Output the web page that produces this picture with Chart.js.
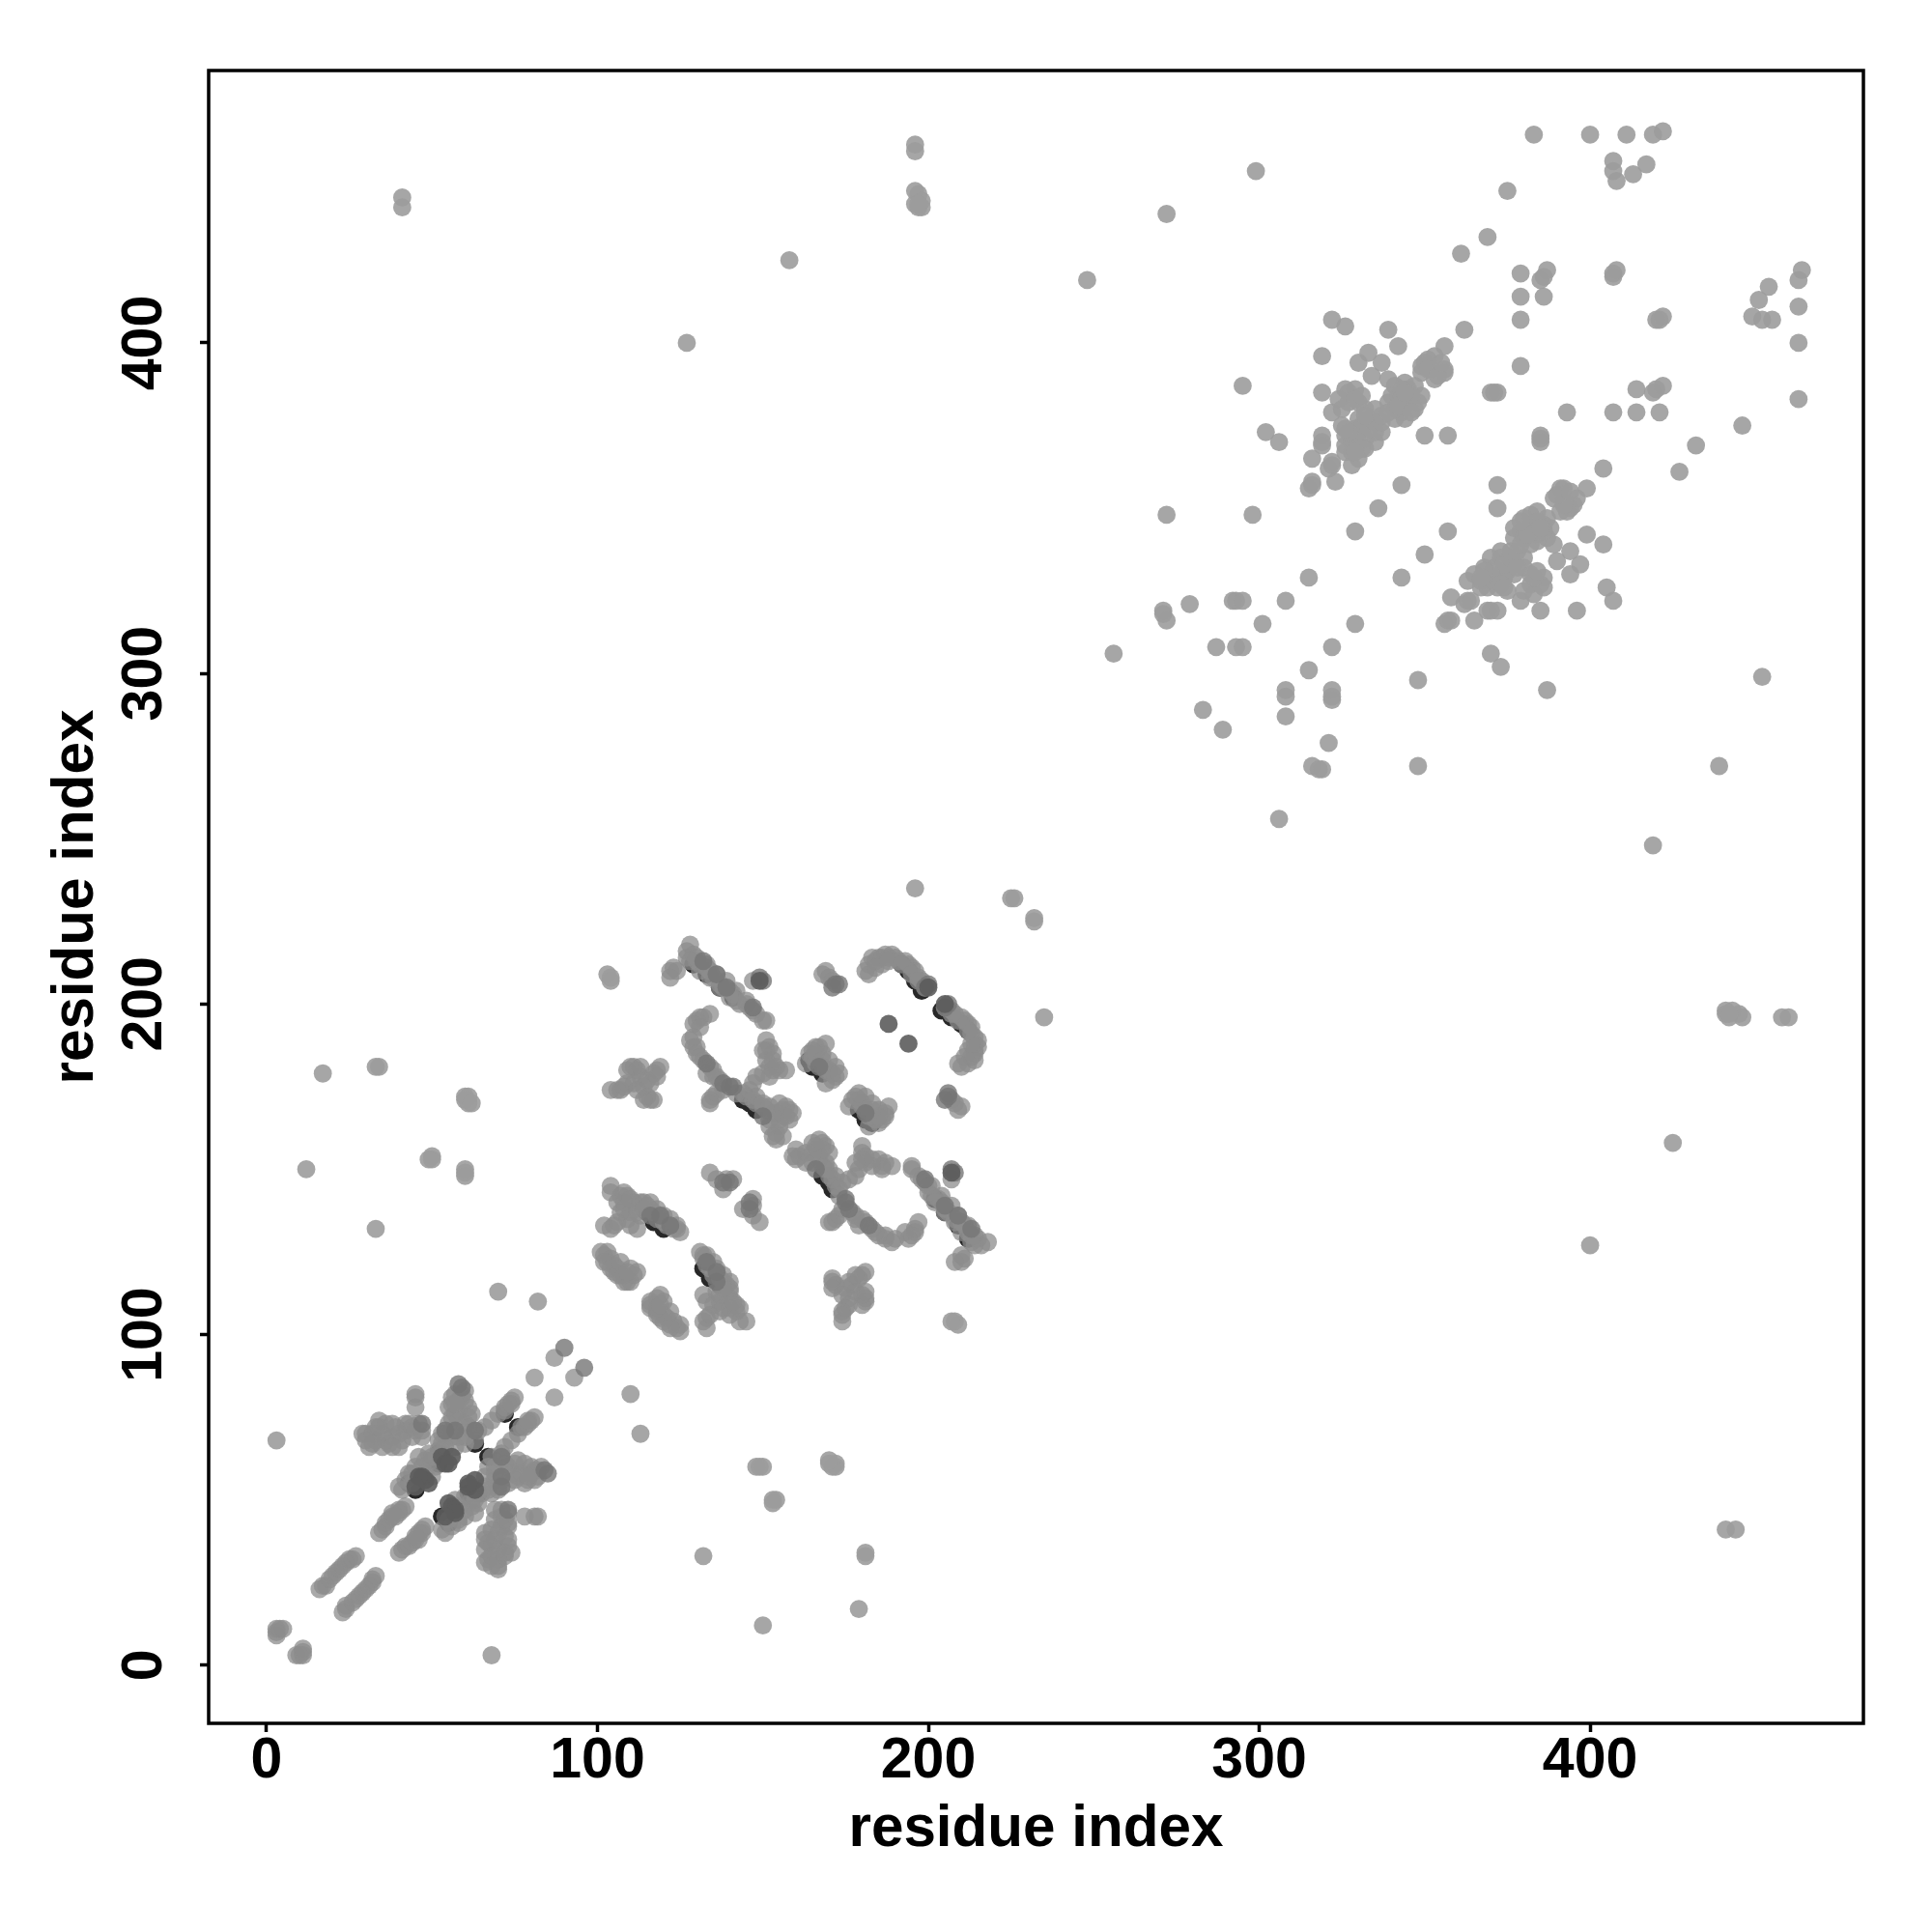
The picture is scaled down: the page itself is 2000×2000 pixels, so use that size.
<!DOCTYPE html>
<html>
<head>
<meta charset="utf-8">
<title>residue contact map</title>
<script src="https://cdn.jsdelivr.net/npm/chart.js@4"></script>
<style>
html, body { margin: 0; padding: 0; background: #fff; }
canvas { display: block; }
</style>
</head>
<body>
<canvas id="map" width="2000" height="2000" style="width:2000px;height:2000px"></canvas>
<script>
'use strict';

var tickValues = [0, 100, 200, 300, 400];
var xTitle = 'residue index';
var yTitle = 'residue index';

// contacts are listed for both sides of the diagonal
var domainOneX = [
  3,3,3,4,5,16,17,18,19,20,21,22,23,24,25,26,27,34,35,36,37,38,40,41,40,30,29,31,32,34,35,35,36,38,38,40,40,42,43,44,46,47,33,37,45,45,45,59,59,56,61,58,56,61,60,55,58,56,54,55,56,52,52,62,64,63,61,53,46,48,44,44,45,50,68,72,73,75,81,87,70,74,72,74,
  9,10,11,11,11,23,24,24,26,27,28,29,30,31,32,32,33,40,41,42,44,46,46,47,54,70,70,66,70,74,66,70,73,69,73,66,70,73,73,69,73,69,72,67,78,81,82,82,81,81,78,77,79,75,83,78,80,71,70,73,69,68,65,71,71,68,72,70,63,62,58,55,60,62,74,78,79,81,87,93,76,80,77,79
];
var domainOneY = [
  9,10,11,11,11,23,24,24,26,27,28,29,30,31,32,32,33,40,41,42,44,46,46,47,54,70,70,66,70,74,66,70,73,69,73,66,70,73,73,69,73,69,72,67,78,81,82,82,81,81,78,77,79,75,83,78,80,71,70,73,69,68,65,71,71,68,72,70,63,62,58,55,60,62,74,78,79,81,87,93,76,80,77,79,
  3,3,3,4,5,16,17,18,19,20,21,22,23,24,25,26,27,34,35,36,37,38,40,41,40,30,29,31,32,34,35,35,36,38,38,40,40,42,43,44,46,47,33,37,45,45,45,59,59,56,61,58,56,61,60,55,58,56,54,55,56,52,52,62,64,63,61,53,46,48,44,44,45,50,68,72,73,75,81,87,70,74,72,74
];
var denseOneX = [
  57,50,51,47,49,60,60,66,58,60,57,56,58,53,54,48,50,42,43,42,39,36,33,32,44,45,41,30,47,38,34,60,57,57,62,38,36,40,42,41,39,
  66,63,60,60,64,67,69,72,69,73,76,75,74,67,66,58,57,56,58,71,72,68,68,67,72,71,68,68,71,66,72,80,82,79,76,45,43,47,48,53,45
];
var denseOneY = [
  66,63,60,60,64,67,69,72,69,73,76,75,74,67,66,58,57,56,58,71,72,68,68,67,72,71,68,68,71,66,72,80,82,79,76,45,43,47,48,53,45,
  57,50,51,47,49,60,60,66,58,60,57,56,58,53,54,48,50,42,43,42,39,36,33,32,44,45,41,30,47,38,34,60,57,57,62,38,36,40,42,41,39
];

var domainTwoX = [
  128,127,129,127,130,131,133,134,135,137,138,140,141,142,143,145,146,147,148,150,151,147,122,123,122,124,
  134,132,131,130,129,128,129,130,130,132,134,135,136,137,
  151,152,153,151,152,153,155,157,150,148,147,151,
  119,118,117,115,113,110,111,109,112,109,104,107,106,116,115,117,111,114,
  134,135,136,134,138,142,145,147,148,150,151,153,158,157,156,155,153,154,157,155,
  169,167,165,164,163,165,166,168,169,171,171,169,
  181,182,183,185,187,189,186,190,193,194,195,196,197,198,169,168,170,171,
  104,104,107,109,108,111,113,115,116,117,118,120,121,123,125,124,102,105,106,104,112,110,109,107,110,
  101,102,103,104,105,106,107,108,109,111,112,103,105,
  134,136,138,139,141,
  218,216,215,214,213,212,211,210,208,206,205,204,203,201,200,200,199,198,197,195,195,207,210,211,208,210,
  197,196,196,195,194,189,190,187,185,183,181,180,178,177,
  189,187,185,183,181,180,180,180,179,178,176,186,
  181,180,179,177,178,181,181,180,180,176,174,174,174,171,172,171,176,175,
  170,172,173,171,174,173,172,171,170,169,168,167,168,169,166,163,160,161,166,170,
  188,187,186,185,182,184,182,181,180,179,177,176,
  210,212,214,214,215,215,212,214,213,212,211,210,208,207,210,209,208,207,
  145,143,142,142,140,140,140,139,138,137,135,134,133,132,131,132,133,133,134,132,132,133,135,137,137,
  125,124,122,123,121,120,118,116,116,118,119,125,119,
  149,147,144,147,147
];
var domainTwoY = [
  218,216,215,214,213,212,211,210,208,206,205,204,203,201,200,200,199,198,197,195,195,207,210,211,208,210,
  197,196,196,195,194,189,190,187,185,183,181,180,178,177,
  189,187,185,183,181,180,180,180,179,178,176,186,
  181,180,179,177,178,181,181,180,180,176,174,174,174,171,172,171,176,175,
  170,172,173,171,174,173,172,171,170,169,168,167,168,169,166,163,160,161,166,170,
  188,187,186,185,182,184,182,181,180,179,177,176,
  210,212,214,214,215,215,212,214,213,212,211,210,208,207,210,209,208,207,
  145,143,142,142,140,140,140,139,138,137,135,134,133,132,131,132,133,133,134,132,132,133,135,137,137,
  125,124,122,123,121,120,118,116,116,118,119,125,119,
  149,147,144,147,147,
  128,127,129,127,130,131,133,134,135,137,138,140,141,142,143,145,146,147,148,150,151,147,122,123,122,124,
  134,132,131,130,129,128,129,130,130,132,134,135,136,137,
  151,152,153,151,152,153,155,157,150,148,147,151,
  119,118,117,115,113,110,111,109,112,109,104,107,106,116,115,117,111,114,
  134,135,136,134,138,142,145,147,148,150,151,153,158,157,156,155,153,154,157,155,
  169,167,165,164,163,165,166,168,169,171,171,169,
  181,182,183,185,187,189,186,190,193,194,195,196,197,198,169,168,170,171,
  104,104,107,109,108,111,113,115,116,117,118,120,121,123,125,124,102,105,106,104,112,110,109,107,110,
  101,102,103,104,105,106,107,108,109,111,112,103,105,
  134,136,138,139,141
];
var denseTwoX = [
  130,133,136,139,142,145,128,131,134,137,140,
  146,148,150,152,154,144,156,152,155,152,154,158,156,159,
  166,168,170,172,166,168,170,172,173,
  184,186,188,191,184,182,188,192,195,197,199,
  114,116,118,120,122,124,108,112,113,106,108,110,114,
  102,104,106,108,110,110,107,109,
  131,129,131,133,135,150,153,154,152,
  113,116,118,108,112,114,
  214,212,209,207,204,201,213,210,208,205,202,
  174,172,170,169,167,173,168,165,165,163,159,165,160,167,
  187,185,183,181,185,183,180,178,179,
  213,214,214,213,211,209,213,212,209,207,205,
  140,140,138,136,135,133,138,137,136,140,143,141,138,
  122,120,118,118,116,120,122,119,
  193,187,184,179,178,186,183,181,178,
  181,176,178,175,174,171
];
var denseTwoY = [
  214,212,209,207,204,201,213,210,208,205,202,
  174,172,170,169,167,173,168,165,165,163,159,165,160,167,
  187,185,183,181,185,183,180,178,179,
  213,214,214,213,211,209,213,212,209,207,205,
  140,140,138,136,135,133,138,137,136,140,143,141,138,
  122,120,118,118,116,120,122,119,
  193,187,184,179,178,186,183,181,178,
  181,176,178,175,174,171,
  130,133,136,139,142,145,128,131,134,137,140,
  146,148,150,152,154,144,156,152,155,152,154,158,156,159,
  166,168,170,172,166,168,170,172,173,
  184,186,188,191,184,182,188,192,195,197,199,
  114,116,118,120,122,124,108,112,113,106,108,110,114,
  102,104,106,108,110,110,107,109,
  131,129,131,133,135,150,153,154,152,
  113,116,118,108,112,114
];

var domainThreeX = [
  322,326,339,342,362,356,379,386,379,379,319,295,319,370,372,371,419,420,422,420,421,422,302,306,319,319,319,316,321,322,322,315,316,316,323,343,357,350,336,329,298,272,315,292,293,295,308,279,301,287,293,295,283,272,271,271,
  333,330,337,334,339,353,350,349,356,356,353,351,352,344,347,349,345,341,342,339,345,343,341,344,341,348,329,326,324,322,327,330,332,335,325,330,333,337,335,330,326,326,335,328,332,330,328,328,326,
  383,400,411,419,422,407,407,408,413,417,375,369,361,299,272,248,256,379,
  407,405,404,399,404,399,414,414,407,393,396,387,385,385,385,385,385,386,387,407,407,408,373,370,372,369,370,365,362,363,364,356,358,357,358,357,372,372,350,343,348,348,329,322,322,322,322,321,315,308,308,308,289,316,319,318,
  397,394,394,390,389,396,394,391,391,392,389,395,392,388,387,384,386,387,384,382,382,379,377,377,380,382,386,386,383,379,382,382,380,380,375,377,377,373,373,373,372,369,370,370,371,365,363,367,367,
  463,463,463,463,464,455,452,449,451,454,446,432,427,452,439,419,306,421
];
var domainThreeY = [
  407,405,404,399,404,399,414,414,407,393,396,387,385,385,385,385,385,386,387,407,407,408,373,370,372,369,370,365,362,363,364,356,358,357,358,357,372,372,350,343,348,348,329,322,322,322,322,321,315,308,308,308,289,316,319,318,
  397,394,394,390,389,396,394,391,391,392,389,395,392,388,387,384,386,387,384,382,382,379,377,377,380,382,386,386,383,379,382,382,380,380,375,377,377,373,373,373,372,369,370,370,371,365,363,367,367,
  463,463,463,463,464,455,452,449,451,454,446,432,427,452,439,419,306,421,
  322,326,339,342,362,356,379,386,379,379,319,295,319,370,372,371,419,420,422,420,421,422,302,306,319,319,319,316,321,322,322,315,316,316,323,343,357,350,336,329,298,272,315,292,293,295,308,279,301,287,293,295,283,272,271,271,
  333,330,337,334,339,353,350,349,356,356,353,351,352,344,347,349,345,341,342,339,345,343,341,344,341,348,329,326,324,322,327,330,332,335,325,330,333,337,335,330,326,326,335,328,332,330,328,328,326,
  383,400,411,419,422,407,407,408,413,417,375,369,361,299,272,248,256,379
];
var denseThreeX = [
  327,329,331,325,329,331,333,335,337,328,330,332,331,329,327,326,332,337,339,340,343,343,346,347,342,344,346,349,351,354,355,
  385,383,384,380,374,375,374,376,376,371,370,368,368,367,373,374,378,378,379,384,386,383,384,380,381,385,379,393,392,390,394
];
var denseThreeY = [
  385,383,384,380,374,375,374,376,376,371,370,368,368,367,373,374,378,378,379,384,386,383,384,380,381,385,379,393,392,390,394,
  327,329,331,325,329,331,333,335,337,328,330,332,331,329,327,326,332,337,339,340,343,343,346,347,342,344,346,349,351,354,355
];

var longRangeX = [
  3,12,17,33,34,33,50,50,49,60,61,61,60,62,60,60,60,70,82,103,104,104,196,225,226,41,41,127,158,196,197,197,196,196,196,198,198,197,
  68,150,179,181,181,132,154,153,153,172,172,170,171,170,150,149,148,113,110,209,208,207,235,232,232,441,444,400,425,442,441,445,446,458,460,443,441,442
];
var longRangeY = [
  68,150,179,181,181,132,154,153,153,172,172,170,171,170,150,149,148,113,110,209,208,207,235,232,232,441,444,400,425,442,441,445,446,458,460,443,441,442,
  3,12,17,33,34,33,50,50,49,60,61,61,60,62,60,60,60,70,82,103,104,104,196,225,226,41,41,127,158,196,197,197,196,196,196,198,198,197
];

// darker contacts, shade goes with how dark the disc is in the picture
var midX = [
  132,136,139,147,149,133,138,140,141,58,59,90,57,47,54,63,116,119,122,138,140,167,150,200,172,173,171,150,199,
  213,209,205,199,208,182,176,175,175,85,84,96,71,73,71,71,136,136,133,146,146,181,166,206,206,206,205,207,205
];
var midY = [
  213,209,205,199,208,182,176,175,175,85,84,96,71,73,71,71,136,136,133,146,146,181,166,206,206,206,205,207,205,
  132,136,139,147,149,133,138,140,141,58,59,90,57,47,54,63,116,119,122,138,140,167,150,200,172,173,171,150,199
];
var darkX = [
  49,48,47,46,45,56,54,53,55,188,200,149,
  55,56,57,57,54,63,61,63,61,194,205,207
];
var darkY = [
  55,56,57,57,54,63,61,63,61,194,205,207,
  49,48,47,46,45,56,54,53,55,188,200,149
];
var blackX = [
  129,133,137,141,144,146,148,164,165,168,115,117,120,192,194,196,52,63,72,43,45,52,198,
  212,209,205,202,171,170,168,183,181,179,137,134,132,212,210,207,61,67,76,55,53,64,204
];
var blackY = [
  212,209,205,202,171,170,168,183,181,179,137,134,132,212,210,207,61,67,76,55,53,64,204,
  129,133,137,141,144,146,148,164,165,168,115,117,120,192,194,196,52,63,72,43,45,52,198
];

var nearX = domainOneX.concat(denseOneX, domainTwoX, denseTwoX);
var nearY = domainOneY.concat(denseOneY, domainTwoY, denseTwoY);
var farX = domainThreeX.concat(denseThreeX, longRangeX);
var farY = domainThreeY.concat(denseThreeY, longRangeY);

function makePoints(xs, ys) {
  var points = [];
  for (var i = 0; i < xs.length; i++) {
    points.push({ x: xs[i], y: ys[i] });
  }
  return points;
}

function makeSet(name, xs, ys, color) {
  return {
    label: name,
    data: makePoints(xs, ys),
    backgroundColor: color,
    borderWidth: 0,
    pointRadius: 9.4,
    pointHoverRadius: 9.4
  };
}

var frame = {
  id: 'frame',
  afterDraw: function(chart) {
    var area = chart.chartArea;
    var ctx = chart.ctx;
    ctx.save();
    ctx.lineWidth = 3.5;
    ctx.strokeStyle = '#000';
    ctx.strokeRect(area.left, area.top, area.right - area.left, area.bottom - area.top);
    ctx.restore();
  }
};

function useTickValues(scale) {
  scale.ticks = tickValues.map(function(v) { return { value: v }; });
}

var fontFamily = '"Liberation Sans", Arial, sans-serif';
var tickFont = { family: fontFamily, size: 59, weight: 'bold' };
var titleFont = { family: fontFamily, size: 60.2, weight: 'bold' };

var ctx = document.getElementById('map').getContext('2d');
var chart = new Chart(ctx, {
  type: 'scatter',
  data: {
    // first dataset ends up on top
    datasets: [
      makeSet('dark', darkX, darkY, 'rgba(92,92,92,0.9)'),
      makeSet('mid', midX, midY, 'rgba(118,118,118,0.8)'),
      makeSet('near', nearX, nearY, 'rgba(140,140,140,0.75)'),
      makeSet('far', farX, farY, 'rgba(156,156,156,0.9)'),
      makeSet('black', blackX, blackY, 'rgb(40,40,40)')
    ]
  },
  plugins: [frame],
  options: {
    responsive: false,
    animation: false,
    devicePixelRatio: 1,
    layout: { padding: { top: 73, right: 71, left: 0, bottom: 0 } },
    plugins: { legend: { display: false }, tooltip: { enabled: false } },
    scales: {
      x: {
        type: 'linear',
        min: -17.5,
        max: 482.6,
        afterBuildTicks: useTickValues,
        afterFit: function(scale) { scale.height = 216; },
        border: { display: false },
        grid: { drawOnChartArea: false, drawTicks: true, tickLength: 9, tickWidth: 3.5, tickColor: '#000' },
        ticks: {
          color: '#000',
          font: tickFont,
          padding: -5,
          maxRotation: 0,
          autoSkip: false,
          callback: function(v) { return String(v); }
        },
        title: { display: true, text: xTitle, color: '#000', font: titleFont, padding: { top: 0, bottom: 69.5 } }
      },
      y: {
        type: 'linear',
        min: -17.6,
        max: 482.4,
        afterBuildTicks: useTickValues,
        afterFit: function(scale) { scale.width = 216; },
        border: { display: false },
        grid: { drawOnChartArea: false, drawTicks: true, tickLength: 9, tickWidth: 3.5, tickColor: '#000' },
        ticks: {
          color: '#000',
          font: tickFont,
          padding: 7,
          minRotation: 90,
          maxRotation: 90,
          crossAlign: 'center',
          autoSkip: false,
          callback: function(v) { return String(v); }
        },
        title: { display: true, text: yTitle, color: '#000', font: titleFont, padding: { top: 43, bottom: 0 } }
      }
    }
  }
});
</script>
</body>
</html>
